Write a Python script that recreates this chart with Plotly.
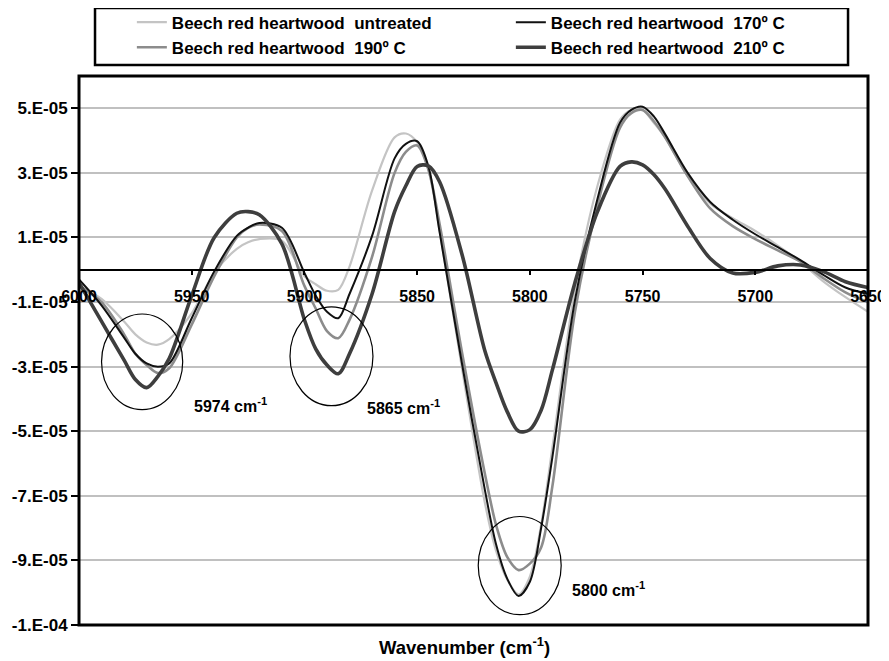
import plotly.graph_objects as go

# Wavenumber (cm-1)
wavenumber = [6000, 5990, 5980, 5975, 5970, 5965, 5960, 5950, 5940, 5930, 5925, 5920, 5910,
              5900, 5895, 5890, 5885, 5880, 5870, 5860, 5855, 5850, 5845, 5840,
              5830, 5820, 5815, 5810, 5805, 5800, 5795, 5790, 5780, 5770, 5760, 5755, 5750,
              5745, 5740, 5730, 5720, 5710, 5700, 5690, 5680, 5670, 5660, 5650]

# second-derivative values, in units of 1e-5
untreated = [-0.5, -0.9, -1.6, -2.0, -2.25, -2.32, -2.15, -1.35, -0.1, 0.65, 0.85, 0.95, 0.9,
             -0.2, -0.45, -0.65, -0.62, 0.1, 2.45, 4.1, 4.22, 3.95, 3.1, 1.2,
             -3.1, -7.2, -8.7, -9.6, -10.05, -9.5, -7.9, -5.5, -0.6, 2.6, 4.65, 4.95, 4.95,
             4.55, 4.1, 2.9, 2.05, 1.6, 1.2, 0.75, 0.25, -0.35, -0.85, -1.3]
t170 = [-0.3, -1.1, -2.1, -2.6, -2.9, -3.0, -2.9, -1.5, -0.05, 1.05, 1.3, 1.45, 1.3,
        -0.1, -0.8, -1.3, -1.5, -0.75, 1.05, 3.45, 3.9, 3.98, 3.2, 1.15,
        -2.95, -6.8, -8.5, -9.57, -10.1, -9.66, -8.0, -5.8, -0.95, 2.2, 4.55, 4.95, 5.05,
        4.75, 4.2, 3.0, 2.1, 1.55, 1.1, 0.7, 0.3, -0.15, -0.55, -0.75]
t190 = [-0.5, -1.0, -2.0, -2.6, -2.95, -3.2, -3.05, -1.7, -0.2, 1.0, 1.3, 1.4, 1.2,
        -0.5, -1.2, -1.9, -2.12, -1.55, 0.4, 3.0, 3.65, 3.85, 3.1, 1.4,
        -2.6, -6.3, -7.9, -8.9, -9.3, -9.1, -8.6, -6.7, -1.3, 2.0, 4.4, 4.85, 4.95,
        4.6, 4.1, 2.9, 1.9, 1.35, 0.95, 0.6, 0.25, -0.25, -0.7, -1.0]
t210 = [-0.4, -1.6, -2.8, -3.4, -3.65, -3.3, -2.75, -0.8, 1.0, 1.75, 1.8, 1.7, 0.8,
        -1.55, -2.45, -2.95, -3.22, -2.6, -0.75, 1.8, 2.6, 3.2, 3.22, 2.72,
        0.45, -2.5, -3.5, -4.4, -5.0, -4.95, -4.35, -3.1, -0.4, 1.8, 3.2, 3.34, 3.25,
        2.95, 2.5, 1.35, 0.35, -0.1, -0.08, 0.12, 0.15, -0.05, -0.37, -0.55]

series_names = ["Beech red heartwood  untreated", "Beech red heartwood  170º C",
                "Beech red heartwood  190º C", "Beech red heartwood  210º C"]

x_ticks = [6000, 5950, 5900, 5850, 5800, 5750, 5700, 5650]
y_tickvals = [5e-5, 3e-5, 1e-5, -1e-5, -3e-5, -5e-5, -7e-5, -9e-5, -1.1e-4]
y_ticktext = ["5.E-05", "3.E-05", "1.E-05", "-1.E-05", "-3.E-05", "-5.E-05", "-7.E-05", "-9.E-05", "-1.E-04"]

# highlighted bands: (label, x-centre, y-centre(1e-5), x-radius, y-radius(1e-5))
highlights = [("5974 cm<sup>-1</sup>", 5972, -2.85, 18.0, 1.48),
              ("5865 cm<sup>-1</sup>", 5888, -2.68, 18.4, 1.53),
              ("5800 cm<sup>-1</sup>", 5804.5, -9.16, 18.4, 1.52)]
label_pos = [(5950, -4.18), (5873, -4.24), (5782, -9.9)]

FONT = "Liberation Sans, Arial, sans-serif"
s = 1e-5

fig = go.Figure()
styles = {
    0: dict(color="#c4c4c4", width=2.2),
    1: dict(color="#111111", width=2.0),
    2: dict(color="#8c8c8c", width=2.6),
    3: dict(color="#3e3e3e", width=3.6),
}
data = [untreated, t170, t190, t210]
for idx in [0, 2, 1, 3]:
    fig.add_trace(go.Scatter(
        x=wavenumber, y=[v * s for v in data[idx]], mode="lines",
        name=series_names[idx], legendrank=idx + 1,
        line=dict(color=styles[idx]["color"], width=styles[idx]["width"], shape="spline", smoothing=0.9),
    ))

y0, y1 = -1.1e-4, 6e-5
# the page body has an 8px default margin, so the figure is drawn 8px smaller
fig.update_layout(
    width=881, height=653,
    margin=dict(l=71, r=21, t=68, b=36, autoexpand=False),
    paper_bgcolor="white", plot_bgcolor="white",
    font=dict(family=FONT, color="black", size=16, weight="bold"),
    showlegend=True,
    legend=dict(orientation="h", x=0.067, xanchor="left", y=1.13, yanchor="top",
                entrywidth=334, entrywidthmode="pixels", bgcolor="rgba(0,0,0,0)",
                font=dict(family=FONT, size=17, weight="bold"), tracegroupgap=0,
                traceorder="normal"),
    xaxis=dict(range=[6000, 5650], autorange=False, anchor="free", position=(0 - y0) / (y1 - y0),
               showline=True, linecolor="black", linewidth=2, ticks="outside", ticklen=4,
               tickwidth=2, tickcolor="black", tickvals=x_ticks, showgrid=False, zeroline=False,
               automargin=False,
               tickfont=dict(family=FONT, size=16, weight="bold"), ticklabelstandoff=8),
    yaxis=dict(range=[y0, y1], autorange=False, tickvals=y_tickvals, ticktext=y_ticktext,
               showgrid=True, gridcolor="#c0c0c0", gridwidth=2, zeroline=False, automargin=False,
               ticks="outside", ticklen=7, tickwidth=2, tickcolor="black", showline=False,
               tickfont=dict(family=FONT, size=17, weight="bold")),
)

# plot frame
fig.add_shape(type="rect", xref="paper", yref="paper", x0=0, x1=1, y0=0, y1=1,
              line=dict(color="black", width=3), layer="above")
# legend box
fig.add_shape(type="rect", xref="paper", yref="paper", x0=0.0203, x1=0.9747, y0=1.020, y1=1.124,
              line=dict(color="black", width=2.5))

for (lab, cx, cy, rx, ry), (lx, ly) in zip(highlights, label_pos):
    fig.add_shape(type="circle", xref="x", yref="y", x0=cx - rx, x1=cx + rx,
                  y0=(cy - ry) * s, y1=(cy + ry) * s, line=dict(color="black", width=1.2))
    fig.add_annotation(x=lx, y=ly * s, xref="x", yref="y", text=lab, showarrow=False,
                       xanchor="left", yanchor="middle",
                       font=dict(family=FONT, size=16, weight="bold"))

fig.add_annotation(x=0.488, y=-0.038, xref="paper", yref="paper", text="Wavenumber (cm<sup>-1</sup>)",
                   showarrow=False, xanchor="center", yanchor="middle",
                   font=dict(family=FONT, size=18.5, weight="bold"))

fig.write_html("out.html")
